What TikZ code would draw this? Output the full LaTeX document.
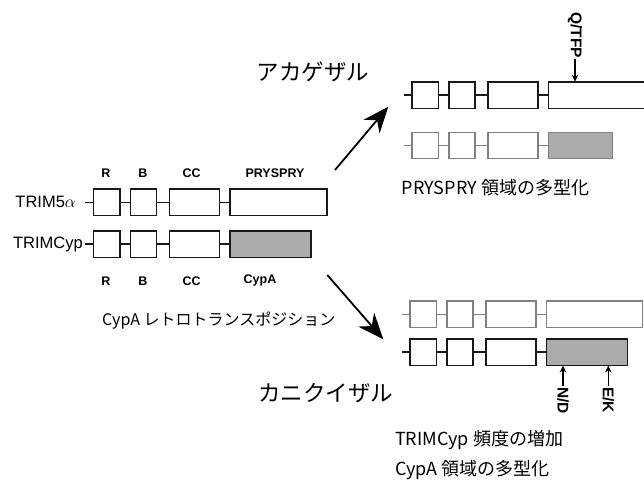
\documentclass[tikz,border=0pt]{standalone}
\usepackage{fontspec}
\setmainfont{Liberation Sans}
\newfontfamily\jpfont{Noto Sans CJK JP}
\usetikzlibrary{arrows.meta}
\tikzset{
  dbox/.style={draw, inner sep=0pt, outer sep=0pt, minimum height=26.5pt},
  blackrow/.style={color=black!90, line width=1.5pt},
  greyrow/.style={color=black!50, line width=1.1pt},
  dlabel/.style={font=\fontsize{12.5}{13}\selectfont\bfseries, inner sep=0pt},
  protname/.style={font=\fontsize{16.5}{18}\selectfont, inner sep=0pt, anchor=east},
  jptext/.style={font=\jpfont\fontsize{18}{20}\selectfont, inner sep=0pt, anchor=west},
  monkey/.style={font=\jpfont\fontsize{22.5}{24}\selectfont, inner sep=0pt, anchor=west},
  mutlabel/.style={font=\fontsize{15.5}{16}\selectfont\bfseries, inner sep=1pt, rotate=-90, anchor=west},
  bigarrow/.style={line width=1.8pt, -{Stealth[length=26pt,width=21pt]}},
  smallarrow/.style={line width=1.3pt, -{Stealth[length=7pt,width=6.5pt]}},
}
\newcommand\domrow[6]{%
  \begin{scope}[#5]
  \coordinate (#1s) at (#2-8,#3);
  \node[dbox,minimum width=26.5pt,anchor=west] (#1a) at (#2,#3) {};
  \node[dbox,minimum width=26pt,anchor=west] (#1b) at (#2+37,#3) {};
  \node[dbox,minimum width=50pt,anchor=west] (#1c) at (#2+76,#3) {};
  \node[dbox,minimum width=#4pt,anchor=west,fill=#6] (#1d) at (#2+136.5,#3) {};
  \draw (#1s) -- (#1a.west);
  \draw (#1a.east) -- (#1b.west);
  \draw (#1b.east) -- (#1c.west);
  \draw (#1c.east) -- (#1d.west);
  \end{scope}}
\begin{document}
\begin{tikzpicture}[x=1pt,y=-1pt]
\useasboundingbox (0,0) rectangle (644,488);
\fill[white] (0,0) rectangle (644,488);

% left group
\domrow{la}{93.3}{202.3}{97.3}{blackrow}{white}
\domrow{lb}{93.3}{244}{81}{blackrow}{black!33}
\node[protname] (tn1) at (76,202.3) {TRIM5$\alpha$};
\node[protname] (tn2) at (83,244) {TRIMCyp};
\node[dlabel] (lR1) at (106,173.3) {R};
\node[dlabel] (lB1) at (143,173.3) {B};
\node[dlabel] (lC1) at (191.7,173.3) {CC};
\node[dlabel] (lP1) at (275,173.3) {PRYSPRY};
\node[dlabel] (lR2) at (106,280.7) {R};
\node[dlabel] (lB2) at (143,280.7) {B};
\node[dlabel] (lC2) at (191.7,280.7) {CC};
\node[dlabel] (lP2) at (260,280.7) {CypA};
\node[jptext,font=\jpfont\fontsize{16}{18}\selectfont] (retro) at (102,321) {CypA レトロトランスポジション};

% species labels and arrows
\node[monkey] (rhesus) at (256.7,72) {アカゲザル};
\node[monkey] (cyno) at (258,393) {カニクイザル};
\coordinate (a1s) at (335,170);
\coordinate (a1e) at (388.3,106.7);
\coordinate (a2s) at (327.3,275);
\coordinate (a2e) at (383.3,339.3);
\draw[bigarrow] (a1s) -- (a1e);
\draw[bigarrow] (a2s) -- (a2e);

% right top group
\domrow{ra}{412}{95}{96}{blackrow}{white}
\domrow{rb}{412}{145.5}{64}{greyrow}{black!33}
\node[mutlabel] (qtfp) at (575,11) {Q/TFP};
\coordinate (qt) at (575,81.7);
\draw[smallarrow] (qtfp.east) -- (qt);
\node[jptext] (prypoly) at (401.7,188) {PRYSPRY 領域の多型化};

% right bottom group
\domrow{sa}{410}{314.2}{96}{greyrow}{white}
\domrow{sb}{410}{352}{81}{blackrow}{black!33}
\node[mutlabel] (nd) at (563,386) {N/D};
\node[mutlabel] (ek) at (608.3,386) {E/K};
\coordinate (ndt) at (563,365.5);
\coordinate (ekt) at (608.3,365.5);
\draw[smallarrow] (nd.west) -- (ndt);
\draw[smallarrow] (ek.west) -- (ekt);
\node[jptext] (freq) at (395,440) {TRIMCyp 頻度の増加};
\node[jptext] (cyppoly) at (395,470) {CypA 領域の多型化};
\end{tikzpicture}
\end{document}
